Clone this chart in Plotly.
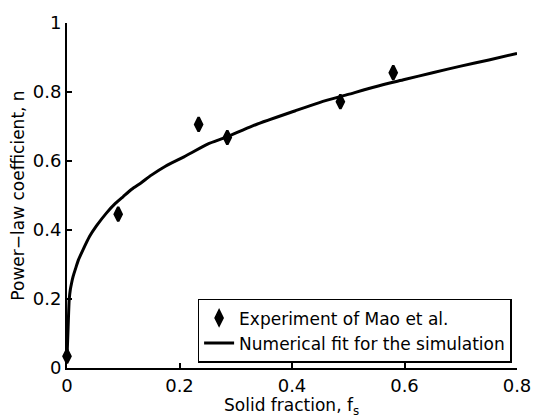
import plotly.graph_objects as go

# Experimental data (Mao et al.)
exp_x = [0.0, 0.091, 0.234, 0.285, 0.486, 0.580]
exp_y = [0.034, 0.446, 0.706, 0.668, 0.772, 0.856]

# Numerical fit curve
fit_x = [0.0, 0.002, 0.004, 0.006, 0.008, 0.011, 0.015, 0.02, 0.028, 0.04, 0.052, 0.07,
         0.086, 0.1, 0.115, 0.132, 0.15, 0.175, 0.208, 0.25, 0.283, 0.33, 0.405,
         0.45, 0.5, 0.55, 0.6, 0.65, 0.7, 0.75, 0.8]
fit_y = [0.03, 0.12, 0.20, 0.228, 0.245, 0.266, 0.287, 0.312, 0.341, 0.381, 0.411, 0.449,
         0.477, 0.497, 0.518, 0.537, 0.559, 0.585, 0.612, 0.649, 0.669, 0.702, 0.745,
         0.770, 0.793, 0.816, 0.836, 0.856, 0.875, 0.893, 0.912]

x_ticks = [0, 0.2, 0.4, 0.6, 0.8]
x_ticklabels = ["0", "0.2", "0.4", "0.6", "0.8"]
y_ticks = [0, 0.2, 0.4, 0.6, 0.8, 1.0]
y_ticklabels = ["0", "0.2", "0.4", "0.6", "0.8", "1"]

x_title = "Solid fraction, f<sub>s</sub>"
y_title = "Power\u2212law coefficient, n"

font_family = "DejaVu Sans, sans-serif"

fig = go.Figure()
fig.add_trace(go.Scatter(
    x=exp_x, y=exp_y, mode="markers", name="Experiment of Mao et al.",
    marker=dict(symbol="diamond-tall", size=10, color="black",
                line=dict(color="black", width=2.5)),
    cliponaxis=False,
))
fig.add_trace(go.Scatter(
    x=fit_x, y=fit_y, mode="lines", name="Numerical fit for the simulation",
    line=dict(color="black", width=3, shape="spline", smoothing=0.6),
    cliponaxis=False,
))

fig.update_layout(
    width=543, height=419,
    margin=dict(l=67, r=15, t=12, b=51),
    paper_bgcolor="white", plot_bgcolor="white",
    font=dict(family=font_family, color="black", size=17),
    showlegend=True,
    legend=dict(
        x=0.988, y=0.015, xanchor="right", yanchor="bottom",
        bordercolor="black", borderwidth=1.5, bgcolor="white",
        font=dict(size=17, family=font_family, color="black"),
        tracegroupgap=0, itemwidth=30,
    ),
    xaxis=dict(
        range=[0, 0.8], tickvals=x_ticks, ticktext=x_ticklabels,
        showgrid=False, zeroline=False, showline=True, linecolor="black", linewidth=2,
        ticks="inside", ticklen=5, tickcolor="black", tickwidth=1.5,
        tickfont=dict(size=18),
        mirror=False,
    ),
    yaxis=dict(
        range=[0, 1.0], tickvals=y_ticks, ticktext=y_ticklabels,
        showgrid=False, zeroline=False, showline=True, linecolor="black", linewidth=2,
        ticks="inside", ticklen=5, tickcolor="black", tickwidth=1.5,
        tickfont=dict(size=18),
        title=dict(text=y_title, font=dict(size=17), standoff=4),
        mirror=False,
    ),
    annotations=[dict(
        text=x_title, xref="paper", yref="paper", x=0.498, y=-0.073,
        xanchor="center", yanchor="top", showarrow=False,
        font=dict(size=17, family=font_family, color="black"),
    )],
)

fig.write_html("out.html")
